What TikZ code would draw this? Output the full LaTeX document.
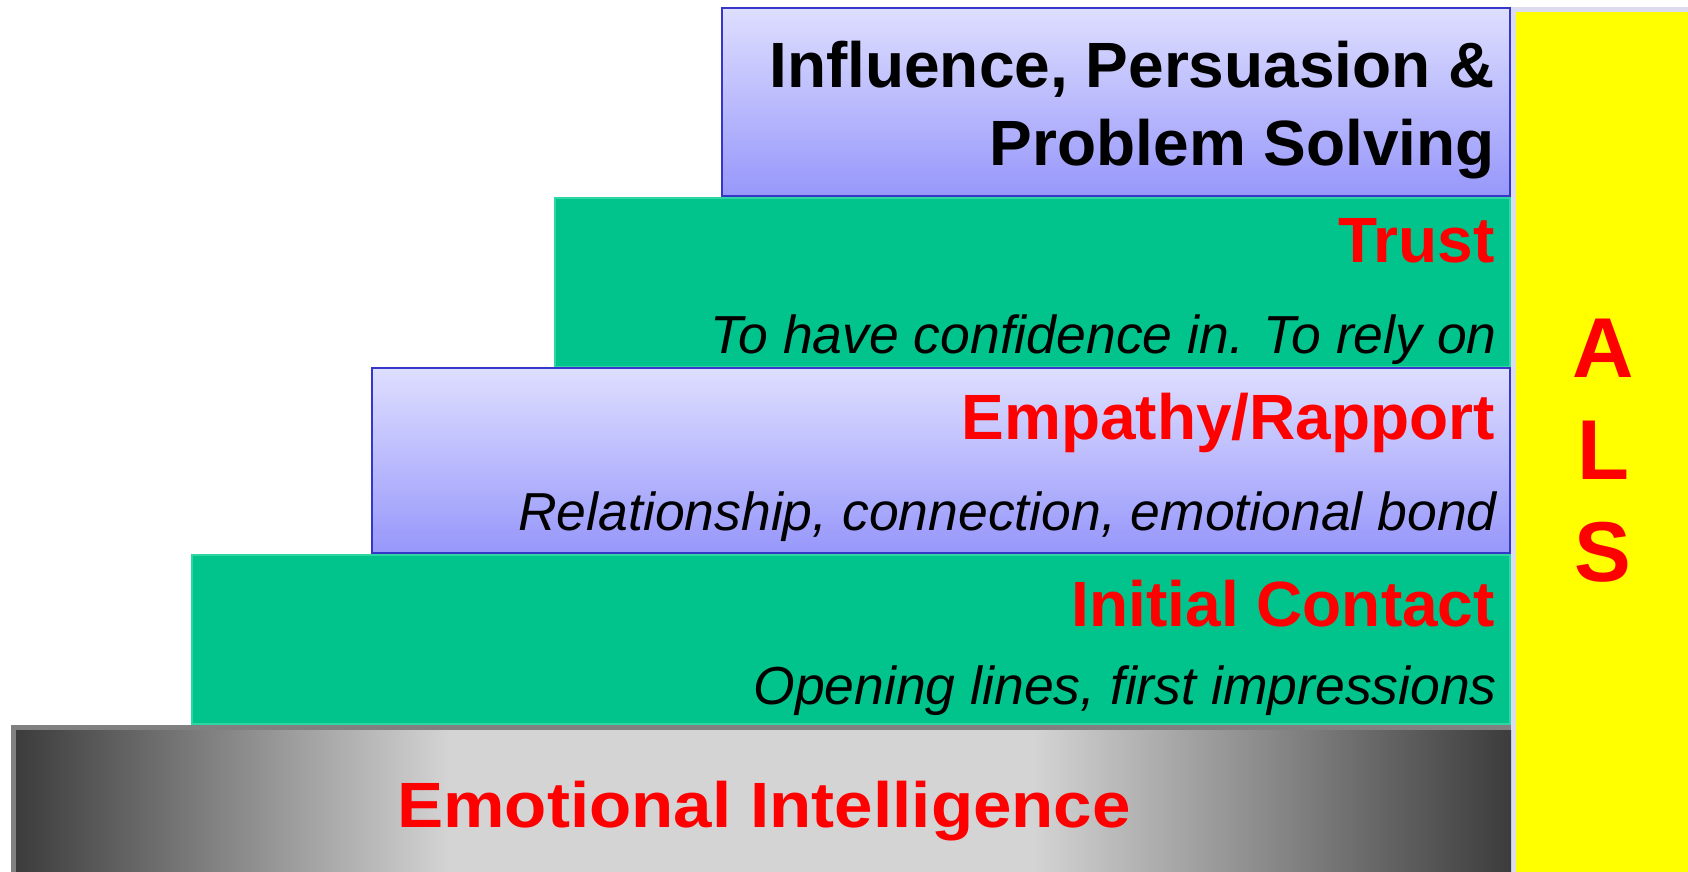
\documentclass[tikz,border=0pt]{standalone}
\usepackage{fontspec}
\setmainfont{Liberation Sans}
\definecolor{lavtop}{HTML}{DEDEFF}
\definecolor{lavbot}{HTML}{9797FB}
\definecolor{lavedge}{HTML}{3636C8}
\definecolor{grn}{HTML}{00C48C}
\definecolor{grnedge}{HTML}{2ED6A2}
\definecolor{dk}{HTML}{3C3C3C}
\definecolor{lt}{HTML}{D4D4D4}
\definecolor{gedge}{HTML}{808080}
\definecolor{strip}{HTML}{DCDCF0}
\definecolor{yel}{HTML}{FFFF00}
\definecolor{txtred}{HTML}{FF0000}
\pgfdeclarehorizontalshading{eigray}{100bp}{color(0bp)=(dk); color(25bp)=(dk); color(39.5bp)=(lt); color(59bp)=(lt); color(75bp)=(dk); color(100bp)=(dk)}
\tikzset{
  lavbox/.style={top color=lavtop, bottom color=lavbot, draw=lavedge, line width=2pt},
  grnbox/.style={fill=grn, draw=grnedge, line width=1.2pt},
  tx/.style={inner sep=0pt, anchor=base east},
  boldtxt/.style={font=\fontsize{64}{77}\selectfont\bfseries},
  italtxt/.style={font=\fontsize{53.5}{64}\selectfont\itshape},
  alstxt/.style={inner sep=0pt, anchor=base, text=txtred, font=\fontsize{85}{100}\selectfont\bfseries}
}
\begin{document}
\begin{tikzpicture}[x=1pt,y=-1pt]
\useasboundingbox (0,0) rectangle (1688,872);
\fill[white] (0,0) rectangle (1688,872);
% right column
\fill[strip] (1511,7) rectangle (1688,872);
\fill[yel] (1516,12) rectangle (1688,872);
% steps
\shade[lavbox] (722,8) rectangle (1510,196);
\draw[grnbox] (555,198) rectangle (1510,367);
\shade[lavbox] (372,368) rectangle (1510,553);
\draw[grnbox] (192,555) rectangle (1510,724);
% base
\fill[gedge] (11,725) rectangle (1511,872);
\shade[shading=eigray] (16,730) rectangle (1511,872);
% texts
\node[tx,boldtxt] (inf1) at (1495,88) {Influence, Persuasion \&};
\node[tx,boldtxt] (inf2) at (1495,165) {Problem Solving};
\node[tx,boldtxt,text=txtred] (trust) at (1495,262) {Trust};
\node[tx,italtxt] (trustd) at (1497,353) {To have confidence in. To rely on};
\node[tx,boldtxt,text=txtred] (emp) at (1495,439) {Empathy/Rapport};
\node[tx,italtxt] (empd) at (1497,530) {Relationship, connection, emotional bond};
\node[tx,boldtxt,text=txtred] (ic) at (1495,626) {Initial Contact};
\node[tx,italtxt] (icd) at (1497,704) {Opening lines, first impressions};
\node[inner sep=0pt, anchor=base, boldtxt, text=txtred] (ei) at (764,827) {\scalebox{1.08}[1]{Emotional Intelligence}};
\node[alstxt] (la) at (1603,377) {A};
\node[alstxt] (ll) at (1603,479) {L};
\node[alstxt] (ls) at (1603,581) {S};
\end{tikzpicture}
\end{document}
